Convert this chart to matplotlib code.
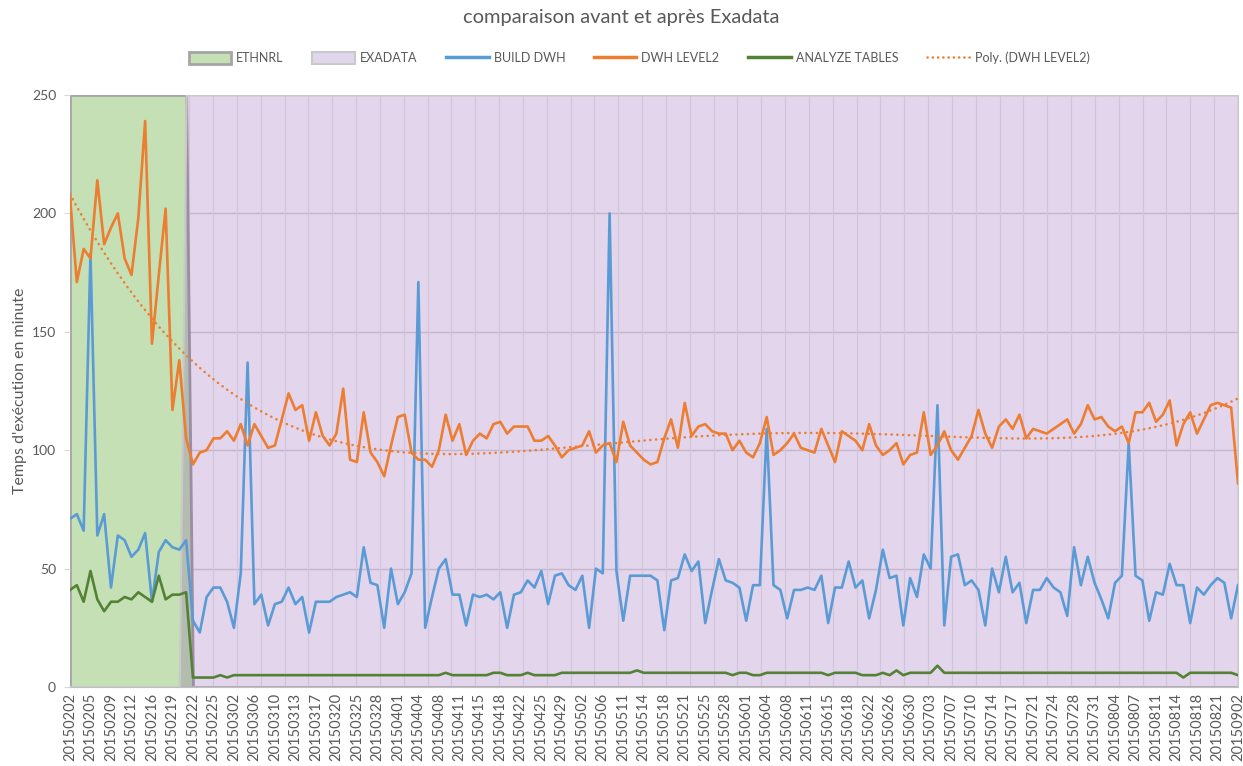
import numpy as np
import matplotlib
matplotlib.use('Agg')
import matplotlib.pyplot as plt
from matplotlib.patches import Patch
from matplotlib.lines import Line2D

plt.rcParams['font.family'] = ['Lato', 'DejaVu Sans']

# tick labels shown on the category axis (one every 3 runs)
tick_labels = ['20150202', '20150205', '20150209', '20150212', '20150216', '20150219',
               '20150222', '20150225', '20150302', '20150306', '20150310', '20150313',
               '20150317', '20150320', '20150325', '20150328', '20150401', '20150404',
               '20150408', '20150411', '20150415', '20150418', '20150422', '20150425',
               '20150429', '20150502', '20150506', '20150511', '20150514', '20150518',
               '20150521', '20150525', '20150528', '20150601', '20150604', '20150608',
               '20150611', '20150615', '20150618', '20150622', '20150626', '20150630',
               '20150703', '20150707', '20150710', '20150714', '20150717', '20150721',
               '20150724', '20150728', '20150731', '20150804', '20150807', '20150811',
               '20150814', '20150818', '20150821', '20150902']

build_dwh = [71, 73, 66, 183, 64, 73, 42, 64, 62, 55, 58, 65, 36, 57, 62, 59, 58, 62,
             28, 23, 38, 42, 42, 36, 25, 48, 137, 35, 39, 26, 35, 36, 42, 35, 38, 23,
             36, 36, 36, 38, 39, 40, 38, 59, 44, 43, 25, 50, 35, 40, 48, 171, 25, 38,
             50, 54, 39, 39, 26, 39, 38, 39, 37, 40, 25, 39, 40, 45, 42, 49, 35, 47,
             48, 43, 41, 47, 25, 50, 48, 200, 49, 28, 47, 47, 47, 47, 45, 24, 45, 46,
             56, 49, 53, 27, 41, 54, 45, 44, 42, 28, 43, 43, 109, 43, 41, 29, 41, 41,
             42, 41, 47, 27, 42, 42, 53, 42, 45, 29, 41, 58, 46, 47, 26, 46, 38, 56,
             50, 119, 26, 55, 56, 43, 45, 41, 26, 50, 40, 55, 40, 44, 27, 41, 41, 46,
             42, 40, 30, 59, 43, 55, 44, 37, 29, 44, 47, 103, 47, 45, 28, 40, 39, 52,
             43, 43, 27, 42, 39, 43, 46, 44, 29, 43]

dwh_level2 = [207, 171, 185, 181, 214, 187, 194, 200, 181, 174, 198, 239, 145, 174, 202, 117, 138, 105,
              94, 99, 100, 105, 105, 108, 104, 111, 102, 111, 106, 101, 102, 113, 124, 117, 119, 104,
              116, 106, 102, 107, 126, 96, 95, 116, 99, 95, 89, 102, 114, 115, 99, 96, 96, 93,
              100, 115, 104, 111, 98, 104, 107, 105, 111, 112, 107, 110, 110, 110, 104, 104, 106, 102,
              97, 100, 101, 102, 108, 99, 102, 103, 95, 112, 102, 99, 96, 94, 95, 105, 113, 101,
              120, 106, 110, 111, 108, 107, 107, 100, 104, 99, 97, 103, 114, 98, 100, 103, 107, 101,
              100, 99, 109, 102, 95, 108, 106, 104, 100, 111, 102, 98, 100, 103, 94, 98, 99, 116,
              98, 102, 108, 100, 96, 101, 106, 117, 107, 101, 110, 113, 109, 115, 105, 109, 108, 107,
              109, 111, 113, 107, 111, 119, 113, 114, 110, 108, 110, 103, 116, 116, 120, 112, 115, 121,
              102, 111, 116, 107, 113, 119, 120, 119, 118, 86]

analyze_tables = [41, 43, 36, 49, 37, 32, 36, 36, 38, 37, 40, 38, 36, 47, 37, 39, 39, 40,
                  4, 4, 4, 4, 5, 4, 5, 5, 5, 5, 5, 5, 5, 5, 5, 5, 5, 5,
                  5, 5, 5, 5, 5, 5, 5, 5, 5, 5, 5, 5, 5, 5, 5, 5, 5, 5,
                  5, 6, 5, 5, 5, 5, 5, 5, 6, 6, 5, 5, 5, 6, 5, 5, 5, 5,
                  6, 6, 6, 6, 6, 6, 6, 6, 6, 6, 6, 7, 6, 6, 6, 6, 6, 6,
                  6, 6, 6, 6, 6, 6, 6, 5, 6, 6, 5, 5, 6, 6, 6, 6, 6, 6,
                  6, 6, 6, 5, 6, 6, 6, 6, 5, 5, 5, 6, 5, 7, 5, 6, 6, 6,
                  6, 9, 6, 6, 6, 6, 6, 6, 6, 6, 6, 6, 6, 6, 6, 6, 6, 6,
                  6, 6, 6, 6, 6, 6, 6, 6, 6, 6, 6, 6, 6, 6, 6, 6, 6, 6,
                  6, 4, 6, 6, 6, 6, 6, 6, 6, 5]

# background bands: ETHNRL period then EXADATA period
ethnrl = [250] * 18 + [0] * 154
exadata = [0] * 17 + [250] * 155

n = len(dwh_level2)
x = np.arange(n)

# polynomial trend line, like the Excel one
coef = np.polyfit(x + 1, dwh_level2, 4)
trend = np.polyval(coef, x + 1)

orange = '#ED7D31'
blue = '#5B9BD5'
green = '#548235'
txt = '#595959'

fig = plt.figure(figsize=(12.43, 7.66), dpi=100)
ax = fig.add_axes([70 / 1243, 1 - 687 / 766, 1168 / 1243, 592 / 766])

# grid under the bands
for g in [50, 100, 150, 200]:
    ax.axhline(g, color='#D9D9D9', lw=1, zorder=0)
for gx in np.linspace(0, n - 1, 50):
    ax.axvline(gx, color='#EAEAEA', lw=0.8, zorder=0)

ax.fill_between(x, 0, ethnrl, facecolor='#C5E0B4', edgecolor='#A5A5A5', lw=2, zorder=1)
ax.fill_between(x, 0, exadata, facecolor=(0.439, 0.188, 0.627, 0.2), edgecolor='#C9C9C9',
                lw=1.5, zorder=2)

ax.plot(x, build_dwh, color=blue, lw=1.9, zorder=4)
ax.plot(x, dwh_level2, color=orange, lw=1.9, zorder=5)
ax.plot(x, analyze_tables, color=green, lw=1.9, zorder=6)
ax.plot(x, trend, color=orange, lw=1.8, linestyle=(0, (0.1, 2.2)), dash_capstyle='round', zorder=7)

ax.set_xlim(0, n - 1)
ax.set_ylim(0, 250)
ax.set_yticks([0, 50, 100, 150, 200, 250])
ax.set_xticks(x[::3])
ax.set_xticklabels(tick_labels, rotation=90, fontsize=10.5, color=txt)
ax.tick_params(axis='x', length=0, pad=4)
ax.tick_params(axis='y', length=4, color='#D9D9D9', labelsize=10, labelcolor=txt, pad=6)
for s in ['top', 'right', 'left']:
    ax.spines[s].set_visible(False)
ax.spines['bottom'].set_color('#BFBFBF')
ax.spines['bottom'].set_zorder(8)

ax.set_ylabel("Temps d'exécution en minute", fontsize=11.5, color=txt)
ax.yaxis.set_label_coords(-0.037, 0.5)

fig.text(0.5, 1 - 17 / 766, 'comparaison avant et après Exadata', ha='center', va='center',
         fontsize=14.5, color=txt)

handles = [Patch(facecolor='#C5E0B4', edgecolor='#A5A5A5', lw=2),
           Patch(facecolor='#E2D6EC', edgecolor='#C9C9C9', lw=1.5),
           Line2D([], [], color=blue, lw=2.5),
           Line2D([], [], color=orange, lw=2.5),
           Line2D([], [], color=green, lw=2.5),
           Line2D([], [], color=orange, lw=1.8, linestyle=(0, (0.1, 2.0)), dash_capstyle='round')]
names = ['ETHNRL', 'EXADATA', 'BUILD DWH', 'DWH LEVEL2', 'ANALYZE TABLES', 'Poly. (DWH LEVEL2)']
fig.legend(handles, names, loc='center', bbox_to_anchor=(639 / 1243, 1 - 58 / 766), ncol=6,
           frameon=False, fontsize=9, labelcolor=txt, handlelength=3.4, handleheight=1.0,
           handletextpad=0.4, columnspacing=2.3)

fig.savefig('out.png', dpi=100)
